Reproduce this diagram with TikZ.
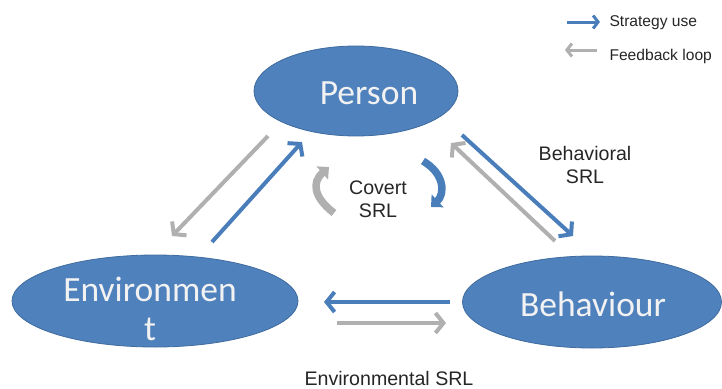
\documentclass[tikz,border=0pt]{standalone}
\usepackage{fontspec}
\setmainfont{Liberation Sans}
\newfontfamily\calibri{Carlito}
\usetikzlibrary{arrows.meta,shapes.geometric}
\definecolor{ellblue}{HTML}{4F81BD}
\definecolor{ellborder}{HTML}{3F6B9E}
\definecolor{arrblue}{HTML}{4A7EBB}
\definecolor{arrgray}{HTML}{B0B0B0}
\tikzset{
  ell/.style={ellipse, inner sep=0pt, fill=ellblue, draw=ellborder, line width=0.8pt},
  elltext/.style={anchor=base, inner sep=0pt, text=white!95!black, font=\calibri\fontsize{35.5}{40}\selectfont},
  lbl/.style={font=\fontsize{19.6}{22.5}\selectfont, align=center, text=black!85},
  leg/.style={font=\fontsize{15.6}{18}\selectfont, anchor=west, text=black!85},
  sarr/.style={line width=4pt, arrblue, -{Straight Barb[length=8pt,width=20pt,line width=4pt]}},
  farr/.style={line width=4pt, arrgray, -{Straight Barb[length=8pt,width=20pt,line width=4pt]}},
  larrS/.style={line width=3pt, arrblue, -{Straight Barb[length=5pt,width=13pt,line width=3pt]}},
  larrF/.style={line width=3pt, arrgray, -{Straight Barb[length=5pt,width=13pt,line width=3pt]}},
}
\begin{document}
\begin{tikzpicture}[x=1pt,y=-1pt]
\useasboundingbox (0,0) rectangle (722,388);
\node[ell, minimum width=204pt, minimum height=90pt] (person) at (356,91) {};
\node[ell, minimum width=286pt, minimum height=92pt] (env) at (155,301) {};
\node[ell, minimum width=259pt, minimum height=92pt] (beh) at (592,302) {};
\node[elltext] (personT) at (369,104) {Person};
\node[elltext] (envT1) at (150,301) {Environmen};
\node[elltext] (envT2) at (150,340) {t};
\node[elltext] (behT) at (593,316) {Behaviour};

% coordinates for connectors
\coordinate (pl1) at (268,136);
\coordinate (el1) at (172,236);
\coordinate (el2) at (212,242);
\coordinate (pl2) at (302,142);
\coordinate (pr1) at (462,135);
\coordinate (br1) at (573,236);
\coordinate (br2) at (555,241);
\coordinate (pr2) at (451,143);
\coordinate (bl1) at (450,302);
\coordinate (er1) at (324,302);
\coordinate (er2) at (337,323);
\coordinate (bl2) at (446,323);

\draw[farr] (pl1) -- (el1);
\draw[sarr] (el2) -- (pl2);
\draw[sarr] (pr1) -- (br1);
\draw[farr] (br2) -- (pr2);
\draw[sarr] (bl1) -- (er1);
\draw[farr] (er2) -- (bl2);

% covert arcs
\draw[arrgray, line width=7.5pt, -{Triangle[length=9pt,width=17pt]}] (334,213) .. controls (313,197) and (312,182) .. (329,167);
\draw[arrblue, line width=7.5pt, -{Triangle[length=9pt,width=17pt]}] (423,161) .. controls (445,174) and (445,194) .. (431,207);

\node[lbl] (covert) at (378,199) {Covert\\SRL};
\node[lbl] (behsrl) at (585,165) {Behavioral\\SRL};
\node[lbl] (envsrl) at (389,378) {Environmental SRL};

% legend
\coordinate (ls1) at (567,22);
\coordinate (ls2) at (600,22);
\coordinate (lf1) at (597,50);
\coordinate (lf2) at (565,50);
\draw[larrS] (ls1) -- (ls2);
\draw[larrF] (lf1) -- (lf2);
\node[leg] (legS) at (606,23) {Strategy use};
\node[leg] (legF) at (606,56) {Feedback loop};
\end{tikzpicture}
\end{document}
